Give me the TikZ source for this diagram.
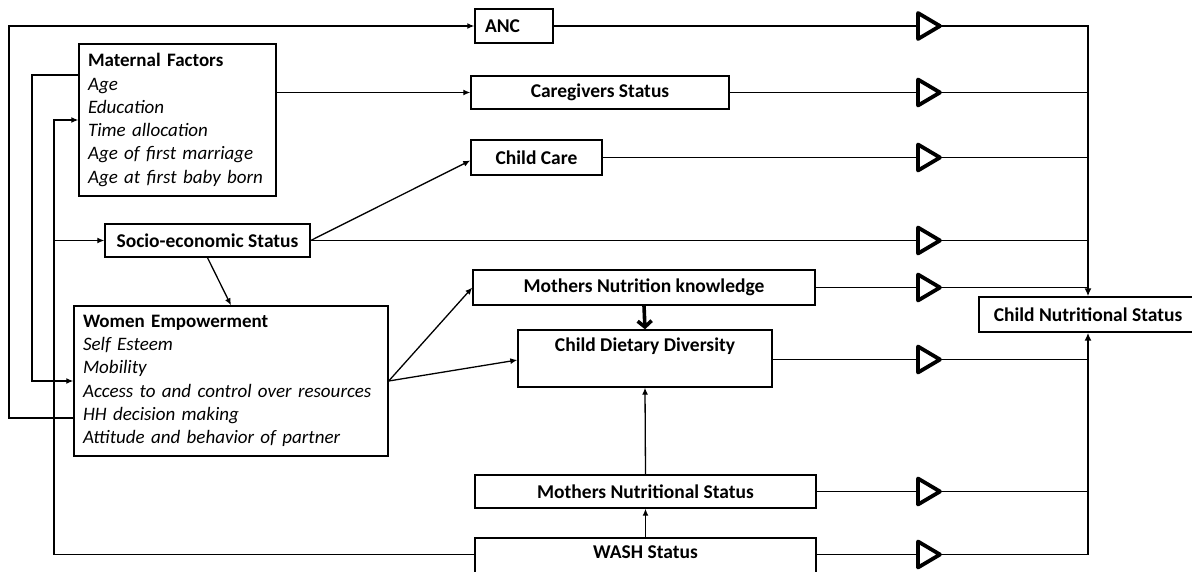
\documentclass[tikz,border=0pt]{standalone}
\usepackage{fontspec}
\setmainfont{Carlito}
\usetikzlibrary{arrows.meta}
\begin{document}
\begin{tikzpicture}[x=1pt,y=-1pt,
  box/.style={draw, line width=1.4pt, inner sep=0pt, fill=white,
    font=\fontsize{19.5}{23.3}\selectfont\bfseries},
  listbox/.style={draw, line width=1.4pt, inner sep=0pt, align=left,
    font=\fontsize{19}{23.3}\selectfont},
  conn/.style={line width=1.3pt},
  arr/.style={line width=1.3pt, -{Latex[length=7pt,width=6pt]}},
  coll/.style={line width=2.6pt, -{Latex[length=8pt,width=7pt]}},
  tripath/.style={draw, line width=3.8pt, fill=white, line join=round}
]
\useasboundingbox (0,0) rectangle (1192,571);
\clip (0,0) rectangle (1192,571);

% boxes
\node[box, minimum width=78pt, minimum height=34pt, text width=58pt, align=left] (anc) at (514,26) {ANC};
\node[box, minimum width=258pt, minimum height=33pt] (cg) at (600,92.5) {Caregivers Status};
\node[box, minimum width=131pt, minimum height=35pt] (cc) at (536.5,157.5) {Child Care};
\node[box, minimum width=205pt, minimum height=33pt] (ses) at (207.5,240.5) {Socio-economic Status};
\node[box, minimum width=342pt, minimum height=35pt] (mnk) at (644,287.5) {Mothers Nutrition knowledge};
\node[box, minimum width=254pt, minimum height=57pt, align=center] (cdd) at (645,358.5) {\raisebox{-4pt}{Child Dietary Diversity}\\\strut};
\node[box, minimum width=341pt, minimum height=33pt] (mns) at (645.5,491.5) {Mothers Nutritional Status};
\node[box, minimum width=341pt, minimum height=54pt, align=center] (wash) at (645.5,565) {\raisebox{-4pt}{WASH Status}\\\strut};
\node[box, minimum width=218pt, minimum height=35pt] (cns) at (1088,314.5) {Child Nutritional Status};

\node[listbox, minimum width=197pt, minimum height=152pt, text width=179pt] (mat) at (177.5,120)
  {\textbf{Maternal Factors}\\\textit{Age}\\\textit{Education}\\\textit{Time allocation}\\\textit{Age of first marriage}\\\textit{Age at first baby born}};
\node[listbox, minimum width=314pt, minimum height=150pt, text width=296pt] (we) at (231,381)
  {\textbf{Women Empowerment}\\\textit{Self Esteem}\\\textit{Mobility}\\\textit{Access to and control over resources}\\\textit{HH decision making}\\\textit{Attitude and behavior of partner}};

% triangles: base point b#, apex point a#
\foreach \i/\y in {1/26,2/92.5,3/157.5,4/240.5,5/287.5,6/359.5,7/491.5,8/554.5}{
  \coordinate (b\i) at (918,\y);
  \coordinate (a\i) at (940,\y);
  \draw[tripath] (918,\y-13) -- (940,\y) -- (918,\y+13) -- cycle;
}

% left loops
\draw[arr] ([yshift=-37pt]we.west) -| (9,26) -- (anc.west);
\draw[arr] ([yshift=45pt]mat.west) -| (32,381) -- (we.west);
\draw[arr] (wash.west |- 0,554.5) -| (54,120) -- (mat.west);
\draw[arr] (54,240.5) -- (ses.west);

% middle connectors
\draw[arr] (mat.east |- cg.west) -- (cg.west);
\draw[arr] (ses.east) -- ([yshift=-3pt]cc.west);
\draw[arr] (ses.south) -- (we.north);
\draw[arr] (we.east) -- (mnk.west);
\draw[arr] (we.east) -- (cdd.west |- 0,360);
\draw[line width=3.6pt, -{Straight Barb[length=6pt,width=14pt]}] (mnk.south) -- (cdd.north);
\draw[arr] (mns.north) -- (cdd.south);
\draw[arr] (wash.north) -- (mns.south);

% boxes to triangles
\draw[conn] (anc.east) -- (b1);
\draw[conn] (cg.east) -- (b2);
\draw[conn] (cc.east) -- (b3);
\draw[conn] (ses.east) -- (b4);
\draw[conn] (mnk.east) -- (b5);
\draw[conn] (cdd.east |- b6) -- (b6);
\draw[conn] (mns.east) -- (b7);
\draw[conn] (wash.east |- b8) -- (b8);

% triangles to collector
\draw[conn] (a1) -| (a2 -| cns.north);
\draw[conn] (a2) -- (a2 -| cns.north);
\draw[conn] (a3) -- (a3 -| cns.north);
\draw[conn] (a4) -- (a4 -| cns.north);
\draw[conn] (a5) -- (a5 -| cns.north);
\draw[conn] (a6) -- (a6 -| cns.south);
\draw[conn] (a7) -- (a7 -| cns.south);
\draw[conn] (a8) -- (a8 -| cns.south);
\draw[coll] (a2 -| cns.north) -- (cns.north);
\draw[coll] (a8 -| cns.south) -- (cns.south);
\end{tikzpicture}
\end{document}
